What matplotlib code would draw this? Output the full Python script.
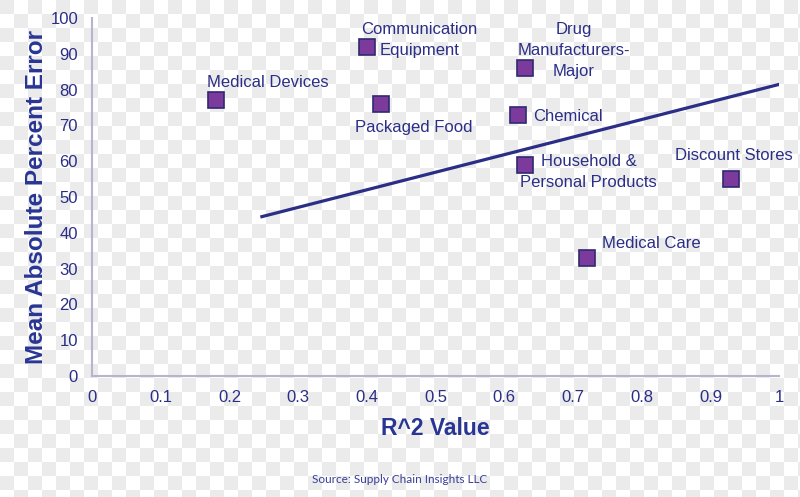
import numpy as np
import matplotlib.pyplot as plt

# data
industries = ['Medical Devices', 'Communication\nEquipment', 'Packaged Food',
              'Drug\nManufacturers-\nMajor', 'Chemical',
              'Household &\nPersonal Products', 'Discount Stores', 'Medical Care']
r2 = [0.18, 0.40, 0.42, 0.63, 0.62, 0.63, 0.93, 0.72]
mape = [77, 92, 76, 86, 73, 59, 55, 33]
trend_x = [0.245, 1.013]
trend_y = [44.4, 82.1]
xticks = [0, 0.1, 0.2, 0.3, 0.4, 0.5, 0.6, 0.7, 0.8, 0.9, 1]
xticklabels = ['0', '0.1', '0.2', '0.3', '0.4', '0.5', '0.6', '0.7', '0.8', '0.9', '1']
yticks = list(range(0, 101, 10))

# label placement (offset in points, alignment)
label_pos = [((-6, 13), 'left'), ((38, 5), 'center'), ((24, -17), 'center'),
             ((35, 13), 'center'), ((11, -1), 'left'), ((46, -5), 'center'),
             ((2, 17), 'center'), ((11, 10), 'left')]

navy = '#2b2e86'
plt.rcParams['font.family'] = ['Liberation Sans', 'DejaVu Sans']

fig = plt.figure(figsize=(8, 4.97), dpi=100)

# checkered background like the source image
h, w = 497, 800
yy, xx = np.indices((h, w))
chk = ((xx // 14 + yy // 14) % 2).astype(float)
bg = np.where(chk == 1, 1.0, 0.925)
fig.figimage(np.dstack([bg, bg, bg]), xo=0, yo=0, zorder=-10)

ax = fig.add_axes([0.115, 0.2435, 0.859, 0.7203])
ax.patch.set_alpha(0)

ax.plot(trend_x, trend_y, color=navy, lw=2.3, solid_capstyle='butt', zorder=2)
ax.plot(r2, mape, 's', ms=11, mfc='#7b3a9c', mec='#2d2a70', mew=1.2, zorder=3)

for name, x, y, (off, ha) in zip(industries, r2, mape, label_pos):
    ax.annotate(name, (x, y), xytext=off, textcoords='offset points',
                ha=ha, va='center', multialignment='center',
                fontsize=12, color=navy, linespacing=1.5, zorder=4)

ax.set_xlim(0, 1)
ax.set_ylim(0, 100)
ax.set_xticks(xticks)
ax.set_xticklabels(xticklabels)
ax.set_yticks(yticks)
ax.tick_params(length=0, labelsize=12, labelcolor=navy)
ax.tick_params(axis='x', pad=10)
ax.tick_params(axis='y', pad=10)
for s in ['top', 'right']:
    ax.spines[s].set_visible(False)
for s in ['left', 'bottom']:
    ax.spines[s].set_color('#b5b5cf')
    ax.spines[s].set_linewidth(1.5)

ax.set_xlabel('R^2 Value', fontsize=16.5, fontweight='bold', color='#283593', labelpad=9)
ax.set_ylabel('Mean Absolute Percent Error', fontsize=17.5, fontweight='bold', color='#283593', labelpad=2)

fig.text(0.5, 0.035, 'Source: Supply Chain Insights LLC', ha='center', va='center',
         fontsize=8.5, color='#3a3f99', family=['Lato', 'DejaVu Sans'])

plt.savefig('out.png', dpi=100)
